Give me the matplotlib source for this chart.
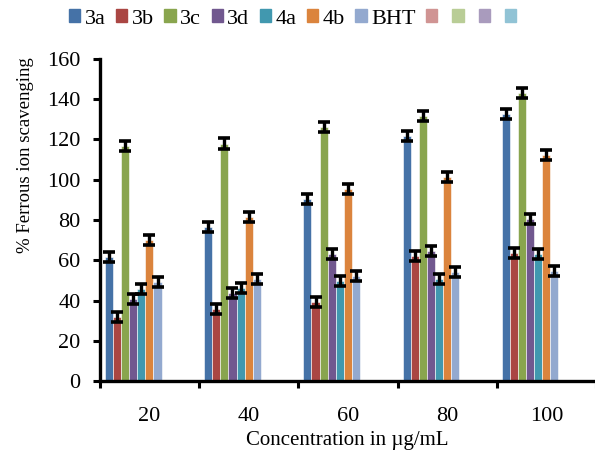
import numpy as np
import matplotlib.pyplot as plt
from matplotlib.patches import Patch

plt.rcParams['font.family'] = ['Liberation Serif', 'DejaVu Serif']

# datos
concentraciones = ['20', '40', '60', '80', '100']
series = ['3a', '3b', '3c', '3d', '4a', '4b', 'BHT']
valores = {
    '3a':  [61.6, 76.5, 90.4, 121.9, 132.7],
    '3b':  [32.0, 36.0, 39.3, 62.3, 63.4],
    '3c':  [117.0, 118.0, 126.4, 131.8, 143.3],
    '3d':  [40.7, 43.7, 63.0, 64.6, 80.5],
    '4a':  [45.7, 46.4, 49.7, 50.7, 63.0],
    '4b':  [70.0, 81.5, 95.4, 101.2, 112.3],
    'BHT': [49.0, 50.7, 52.3, 54.2, 54.8],
}
error = 2.5
colores = ['#4572A7', '#AA4643', '#89A54E', '#71588F', '#4198AF', '#DB843D', '#93A9CF']
colores_vacios = ['#D09493', '#B9CD96', '#A99BBD', '#91C3D5']

fig = plt.figure(figsize=(5.95, 4.59), dpi=100)
ax = fig.add_axes([100/595, 1-381/459, 496/595, 322/459])

x = np.arange(len(concentraciones))
ancho_cat = 99.4
ancho = 8.1 / ancho_cat
margen = 5.0 / ancho_cat

for i, s in enumerate(series):
    pos = x - 0.5 + margen + ancho * (i + 0.5)
    ax.bar(pos, valores[s], width=ancho, color=colores[i], edgecolor='white',
           linewidth=0.4, yerr=error, ecolor='black',
           error_kw=dict(elinewidth=2.4, capsize=4.2, capthick=2.6))

ax.set_ylim(0, 160)
ax.set_yticks(np.arange(0, 161, 20))
ax.set_xlim(-0.5, 4.5)
ax.set_xticks(np.arange(-0.5, 4.6, 1))
ax.set_xticklabels([])
ax.set_xticks(x, minor=True)
ax.set_xticklabels(concentraciones, minor=True)
ax.tick_params(axis='x', which='minor', length=0, pad=19, labelsize=16)
ax.tick_params(axis='x', which='major', length=5, width=2.2, direction='out')
ax.tick_params(axis='y', length=5, width=2.2, direction='out', pad=9, labelsize=16)

for lado in ['top', 'right']:
    ax.spines[lado].set_visible(False)
for lado in ['left', 'bottom']:
    ax.spines[lado].set_linewidth(2.4)

fig.text(25/595, 1-155/459, '% Ferrous ion scavenging', rotation=90,
         ha='center', va='center', fontsize=13.5)
fig.text(347/595, 1-440/459, 'Concentration in \u00b5g/mL',
         ha='center', va='center', fontsize=15)

# leyenda (incluye las 4 entradas vacias)
handles = [Patch(color=c) for c in colores] + [Patch(color=c) for c in colores_vacios]
etiquetas = series + [''] * 4
fig.legend(handles, etiquetas, loc='center left', bbox_to_anchor=(69/595, 1-19/459),
           ncol=11, frameon=False, fontsize=16, handlelength=0.5, handleheight=0.5,
           handletextpad=0.2, columnspacing=0.48, borderaxespad=0, borderpad=0)

fig.savefig('out.png', dpi=100)
